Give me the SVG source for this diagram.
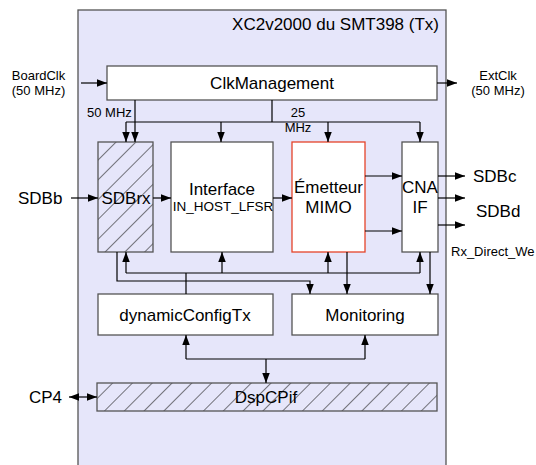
<svg xmlns="http://www.w3.org/2000/svg" width="536" height="465" viewBox="0 0 536 465">
<defs>
<marker id="ah" markerUnits="userSpaceOnUse" markerWidth="10" markerHeight="8" refX="10" refY="3.75" orient="auto-start-reverse"><path d="M0,0 L10,3.75 L0,7.5 z" fill="#000"/></marker>
<pattern id="hatch" width="14" height="14" patternUnits="userSpaceOnUse" patternTransform="rotate(45)"><line x1="0" y1="0" x2="0" y2="14" stroke="#222" stroke-width="1.2"/></pattern>
<style>
.box{fill:#fff;stroke:#555;stroke-width:1.3}
.hbox{fill:url(#hatch);stroke:#555;stroke-width:1.3}
.t{font-family:"Liberation Sans",Arial,sans-serif;font-size:17px;fill:#000}
.s{font-family:"Liberation Sans",Arial,sans-serif;font-size:13px;fill:#000}
.c{text-anchor:middle}
#connectors path{fill:none;stroke:#000;stroke-width:1.2}
.a{marker-end:url(#ah)}
</style>
</defs>
<rect width="536" height="465" fill="#fff"/>
<g id="fpga">
<rect x="78" y="10" width="368" height="470" fill="#e6e6fa" stroke="#555" stroke-width="1.3"/>
<text class="t" x="439" y="30" text-anchor="end">XC2v2000 du SMT398 (Tx)</text>
</g>
<g id="clk"><rect class="box" x="107" y="66" width="330" height="34"/><text class="t c" x="272" y="89">ClkManagement</text></g>
<g id="sdbrx"><rect class="hbox" x="98" y="142" width="55" height="110"/><text class="t c" x="126" y="204">SDBrx</text></g>
<g id="interface"><rect class="box" x="171" y="142" width="102" height="110"/><text class="t c" x="222" y="195">Interface</text><text class="t c" x="223" y="211" style="font-size:13.5px">IN_HOST_LFSR</text></g>
<g id="emetteur"><rect x="292" y="142" width="73" height="110" fill="#fff" stroke="#e5442a" stroke-width="1.3"/><text class="t c" x="328.5" y="193">Émetteur</text><text class="t c" x="328.5" y="213">MIMO</text></g>
<g id="cna"><rect class="box" x="402" y="142" width="36" height="110"/><text class="t c" x="420" y="193">CNA</text><text class="t c" x="420" y="213">IF</text></g>
<g id="dyn"><rect class="box" x="98" y="294" width="175" height="41"/><text class="t c" x="185" y="321">dynamicConfigTx</text></g>
<g id="mon"><rect class="box" x="292" y="294" width="146" height="41"/><text class="t c" x="365" y="321">Monitoring</text></g>
<g id="dsp"><rect class="hbox" x="97" y="383" width="340" height="28"/><text class="t c" x="266" y="403">DspCPif</text></g>
<g id="labels">
<text class="s c" x="38.5" y="80">BoardClk</text><text class="s c" x="38.5" y="95">(50 MHz)</text>
<text class="s c" x="498" y="80">ExtClk</text><text class="s c" x="498" y="95">(50 MHz)</text>
<text class="s" x="87" y="117">50 MHz</text>
<text class="s c" x="298" y="117">25</text><text class="s c" x="298" y="132">MHz</text>
<text class="t" x="18" y="204">SDBb</text>
<text class="t" x="473" y="182">SDBc</text>
<text class="t" x="476" y="217">SDBd</text>
<text class="s" x="451" y="256">Rx_Direct_We</text>
<text class="t" x="29" y="403">CP4</text>
</g>
<g id="connectors">
<path class="a" d="M81,83 H107"/>
<path class="a" d="M437,83 H457"/>
<path class="a" d="M135,100 V142"/>
<path d="M272,100 V122 M126,122 H420"/>
<path class="a" d="M126,122 V142"/>
<path class="a" d="M221,122 V142"/>
<path class="a" d="M328,122 V142"/>
<path class="a" d="M420,122 V142"/>
<path class="a" d="M71,198 H98"/>
<path class="a" d="M153,198 H171"/>
<path class="a" d="M273,198 H292"/>
<path class="a" d="M365,176 H402"/>
<path class="a" d="M365,231 H402"/>
<path class="a" d="M438,176 H465"/>
<path class="a" d="M438,198 H465"/>
<path class="a" d="M438,225 H465"/>
<path d="M186,294 V273 M126,273 H420"/>
<path class="a" d="M126,273 V252"/>
<path class="a" d="M222,273 V252"/>
<path class="a" d="M328,273 V252"/>
<path class="a" d="M420,273 V252"/>
<path class="a" d="M117,252 V281 H310 V294"/>
<path class="a" d="M347,252 V294"/>
<path class="a" d="M430,252 V294"/>
<path d="M186,359 H365"/>
<path class="a" d="M186,359 V335"/>
<path class="a" d="M365,359 V335"/>
<path class="a" d="M266,359 V383"/>
<path class="a" d="M83,397 H69"/>
<path class="a" d="M83,397 H97"/>
</g>
</svg>
